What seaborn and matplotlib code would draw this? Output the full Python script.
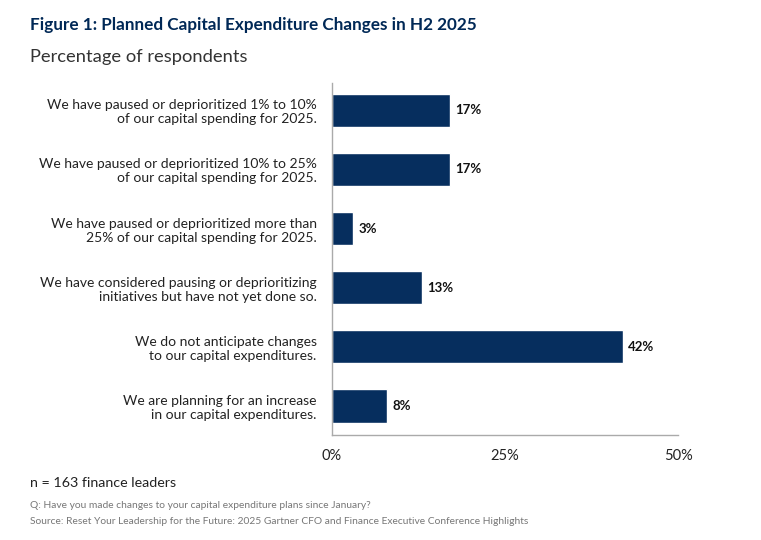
import pandas as pd
import seaborn as sns
from matplotlib import pyplot as plt

# chart data
categories = [
    "We have paused or deprioritized 1% to 10%\nof our capital spending for 2025.",
    "We have paused or deprioritized 10% to 25%\nof our capital spending for 2025.",
    "We have paused or deprioritized more than\n25% of our capital spending for 2025.",
    "We have considered pausing or deprioritizing\ninitiatives but have not yet done so.",
    "We do not anticipate changes\nto our capital expenditures.",
    "We are planning for an increase\nin our capital expenditures.",
]
values = [17, 17, 3, 13, 42, 8]
x_ticks = [0, 25, 50]

df = pd.DataFrame({"category": categories, "value": values})

sns.set_theme(style="white")
plt.rcParams["font.family"] = ["Lato", "DejaVu Sans"]

navy = "#062e5e"
fig = plt.figure(figsize=(7.61, 5.40), dpi=100)
ax = fig.add_axes([0.4363, 0.1944, 0.4547, 0.652])

sns.barplot(data=df, x="value", y="category", color=navy, width=0.56,
            saturation=1, ax=ax, orient="h")

for i, v in enumerate(values):
    ax.text(v + 0.8, i, f"{v}%", va="center", ha="left", fontsize=9.5,
            fontweight="bold", color="#111111")

ax.set_xlim(0, 50)
ax.set_ylim(5.49, -0.46)
ax.set_xticks(x_ticks)
ax.set_xticklabels([f"{t}%" for t in x_ticks], fontsize=10.5, color="#222222")
ax.tick_params(axis="x", length=0, pad=10)
ax.tick_params(axis="y", length=0, pad=11)
for lab in ax.get_yticklabels():
    lab.set_fontsize(10)
    lab.set_color("#222222")
    lab.set_horizontalalignment("right")
    lab.set_multialignment("right")
ax.set_xlabel("")
ax.set_ylabel("")
for side in ["top", "right"]:
    ax.spines[side].set_visible(False)
for side in ["left", "bottom"]:
    ax.spines[side].set_color("#aaaaaa")
    ax.spines[side].set_linewidth(1)

fig.text(30 / 761, 1 - 25 / 540, "Figure 1: Planned Capital Expenditure Changes in H2 2025",
         fontsize=12.3, fontweight="bold", color="#002856", va="center", ha="left")
fig.text(30 / 761, 1 - 57 / 540, "Percentage of respondents",
         fontsize=13.2, color="#333333", va="center", ha="left")
fig.text(30 / 761, 1 - 483 / 540, "n = 163 finance leaders",
         fontsize=10.3, color="#222222", va="center", ha="left")
fig.text(30 / 761, 1 - 505 / 540,
         "Q: Have you made changes to your capital expenditure plans since January?",
         fontsize=7.4, color="#777777", va="center", ha="left")
fig.text(30 / 761, 1 - 522 / 540,
         "Source: Reset Your Leadership for the Future: 2025 Gartner CFO and Finance Executive Conference Highlights",
         fontsize=7.4, color="#777777", va="center", ha="left")

fig.savefig("out.png", dpi=100)
